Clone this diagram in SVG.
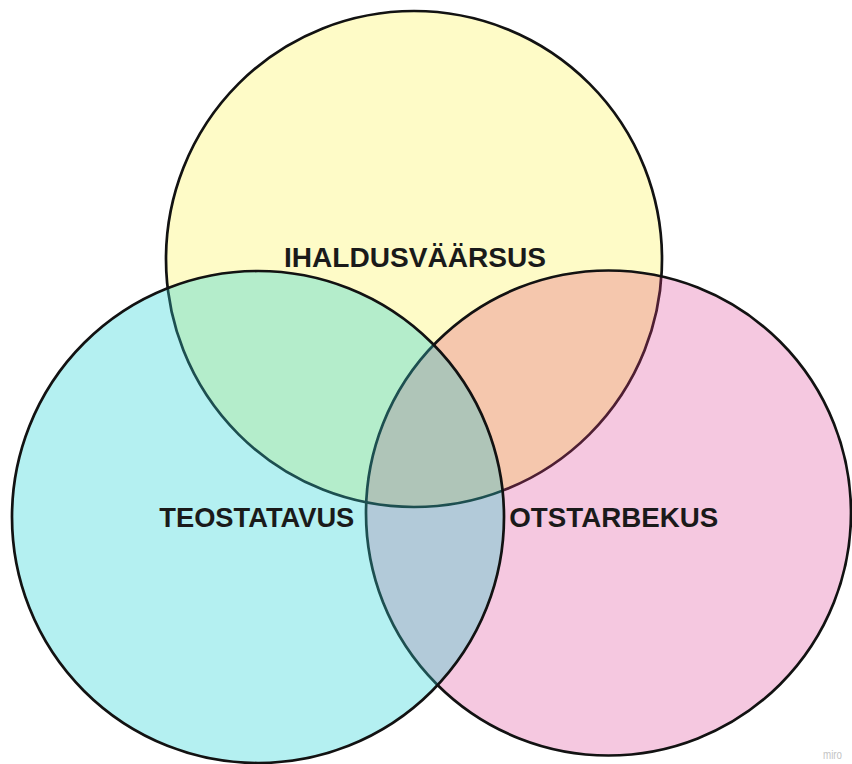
<svg xmlns="http://www.w3.org/2000/svg" xmlns:xlink="http://www.w3.org/1999/xlink" width="852" height="764" viewBox="0 0 852 764">
  <style>
    .edge { fill: none; stroke: #121212; stroke-width: 2.7; }
    .edge-under-cyan { fill: none; stroke: #1d4f50; stroke-width: 2.7; }
    .edge-under-pink { fill: none; stroke: #4e1f33; stroke-width: 2.7; }
    .label { font-family: "Liberation Sans", Arial, Helvetica, sans-serif; font-weight: bold; font-size: 27px; fill: #1a1a1a; }
    .label-low { font-size: 28px; }
    .mark { font-family: "Liberation Sans", Arial, sans-serif; font-size: 12px; fill: #c4c4c4; }
  </style>
  <defs>
    <!-- the three sets -->
    <circle id="set-top" cx="414" cy="259" r="248"/>
    <circle id="set-right" cx="608.5" cy="513" r="242.5"/>
    <circle id="set-left" cx="258" cy="517" r="246"/>
    <clipPath id="in-right"><use xlink:href="#set-right"/></clipPath>
    <clipPath id="in-left"><use xlink:href="#set-left"/></clipPath>
  </defs>

  <rect width="852" height="764" fill="#ffffff"/>

  <!-- top set -->
  <g id="node-ihaldusvaarsus">
    <use xlink:href="#set-top" fill="#fefbc7"/>
    <use xlink:href="#set-top" class="edge"/>
    <text class="label" x="284" y="266.5" textLength="262" lengthAdjust="spacingAndGlyphs">IHALDUSVÄÄRSUS</text>
  </g>

  <!-- right set -->
  <g id="node-otstarbekus">
    <use xlink:href="#set-right" fill="#f5c8e0"/>
    <g clip-path="url(#in-right)">
      <use xlink:href="#set-top" fill="#f5c7ad"/>
      <use xlink:href="#set-top" class="edge-under-pink"/>
    </g>
    <use xlink:href="#set-right" class="edge"/>
    <text class="label label-low" x="509.3" y="526.7" textLength="209" lengthAdjust="spacingAndGlyphs">OTSTARBEKUS</text>
  </g>

  <!-- left set -->
  <g id="node-teostatavus">
    <use xlink:href="#set-left" fill="#b4f0f1"/>
    <g clip-path="url(#in-left)">
      <use xlink:href="#set-top" fill="#b4edcb"/>
      <use xlink:href="#set-right" fill="#b2cad9"/>
      <g clip-path="url(#in-right)">
        <use xlink:href="#set-top" fill="#afc5b8"/>
      </g>
      <use xlink:href="#set-top" class="edge-under-cyan"/>
      <use xlink:href="#set-right" class="edge-under-cyan"/>
    </g>
    <use xlink:href="#set-left" class="edge"/>
    <text class="label label-low" x="159.3" y="526.7" textLength="195" lengthAdjust="spacingAndGlyphs">TEOSTATAVUS</text>
  </g>

  <text class="mark" x="823" y="759" textLength="19" lengthAdjust="spacingAndGlyphs">miro</text>
</svg>
